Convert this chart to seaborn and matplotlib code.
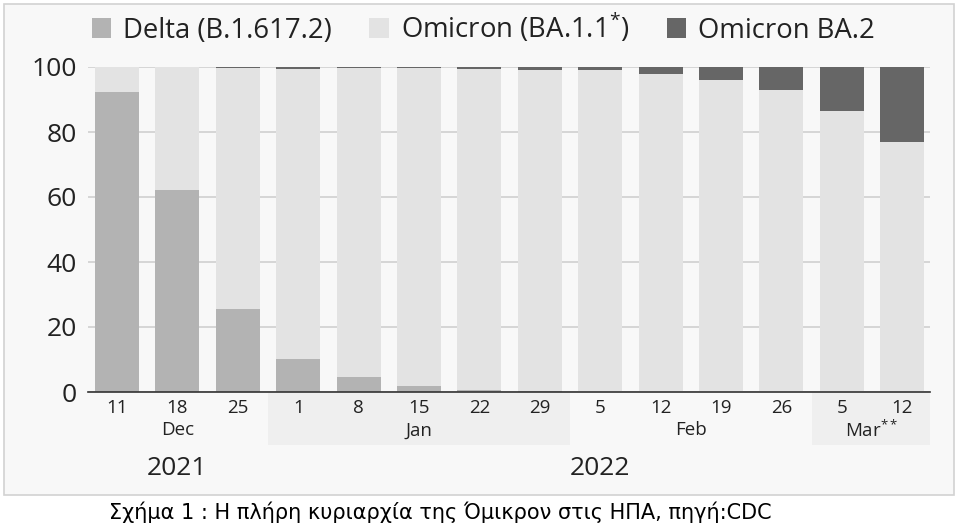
import numpy as np
import pandas as pd
import matplotlib as mpl
from matplotlib import pyplot as plt
from matplotlib.patches import Rectangle, Patch
import seaborn as sns

# weekly shares (%) of variants
weeks = ['11', '18', '25', '1', '8', '15', '22', '29', '5', '12', '19', '26', '5', '12']
week_id = ['Dec 11', 'Dec 18', 'Dec 25', 'Jan 1', 'Jan 8', 'Jan 15', 'Jan 22', 'Jan 29',
           'Feb 5', 'Feb 12', 'Feb 19', 'Feb 26', 'Mar 5', 'Mar 12']
delta = [92.3, 62.2, 25.5, 10.2, 4.6, 1.8, 0.5, 0.3, 0.1, 0, 0, 0, 0, 0]
ba2 = [0, 0, 0.2, 0.5, 0.3, 0.3, 0.5, 0.8, 1.0, 2.2, 4.0, 7.1, 13.5, 23.1]
months = ['Dec', 'Jan', 'Feb', 'Mar$^{**}$']
month_span = [(0, 2), (3, 7), (8, 11), (12, 13)]
years = ['2021', '2022']
year_span = [(0, 2), (3, 13)]
labels = ['Delta (B.1.617.2)', 'Omicron (BA.1.1$^{*}$)', 'Omicron BA.2']
colors = ['#b3b3b3', '#e3e3e3', '#666666']

omicron = [100 - d - b for d, b in zip(delta, ba2)]
df = pd.DataFrame({'week': week_id, 'delta': delta, 'omicron': omicron, 'ba2': ba2})
df['top'] = df['delta'] + df['omicron'] + df['ba2']
df['mid'] = df['delta'] + df['omicron']

sns.set_style("white")
plt.rcParams['font.family'] = ['Open Sans', 'DejaVu Sans']
plt.rcParams['mathtext.fontset'] = 'custom'
plt.rcParams['mathtext.rm'] = 'Open Sans'
plt.rcParams['mathtext.it'] = 'Open Sans'

bg = '#f8f8f8'
fig = plt.figure(figsize=(9.6, 5.27), dpi=100)
fig.patch.set_facecolor('white')
frame = Rectangle((4 / 960, 1 - 495 / 527), 950 / 960, 491 / 527,
                  transform=fig.transFigure, facecolor=bg,
                  edgecolor='#d2d2d2', linewidth=1.2, zorder=-10)
fig.add_artist(frame)

ax = fig.add_axes([88 / 960, 1 - 392 / 527, 842 / 960, 325 / 527])
ax.patch.set_visible(False)

# stacked bars: draw cumulative totals from the back to the front
for col, c in zip(['top', 'mid', 'delta'], [colors[2], colors[1], colors[0]]):
    sns.barplot(data=df, x='week', y=col, color=c, saturation=1, width=0.73,
                linewidth=0, ax=ax, zorder=3)

ax.set_ylim(0, 100)
ax.set_xlim(-0.48, 13.46)
ax.set_yticks([0, 20, 40, 60, 80, 100])
ax.yaxis.grid(True, color='#d0d0d0', linewidth=1.2, zorder=0)
ax.set_axisbelow(True)
ax.set_xticks(range(len(weeks)))
ax.set_xticklabels(weeks)
ax.tick_params(axis='x', length=0, labelsize=13.5, pad=5, colors='#222222')
ax.tick_params(axis='y', length=0, labelsize=19, pad=8, colors='#222222')
ax.set_xlabel('')
ax.set_ylabel('')
for s in ['top', 'right', 'left']:
    ax.spines[s].set_visible(False)
ax.spines['bottom'].set_color('#333333')
ax.spines['bottom'].set_linewidth(1.2)
ax.spines['bottom'].set_zorder(5)

trans = mpl.transforms.blended_transform_factory(ax.transData, ax.transAxes)
# shaded month bands under the axis (Jan, Mar)
for i, (a, b) in enumerate(month_span):
    if i % 2 == 1:
        right = min(b + 0.5, 13.46)
        ax.add_patch(Rectangle((a - 0.5, -0.163), right - (a - 0.5), 0.163, transform=trans,
                               facecolor='#efefef', edgecolor='none', clip_on=False, zorder=0))
    ax.text((a + b) / 2, -0.118, months[i], transform=trans, ha='center', va='center',
            fontsize=13.5, color='#222222')
for yr, (a, b) in zip(years, year_span):
    ax.text((a + b) / 2, -0.235, yr, transform=trans, ha='center', va='center',
            fontsize=19, color='#222222')

handles = [Patch(facecolor=c, edgecolor='none') for c in colors]
fig.legend(handles, labels, loc='center left', bbox_to_anchor=(67 / 960, 1 - 28 / 527),
           ncol=3, frameon=False, fontsize=19.8, handlelength=0.7, handleheight=0.7,
           handletextpad=0.45, columnspacing=1.35, labelcolor='#222222')

fig.text(440 / 960, 1 - 512 / 527, 'Σχήμα 1 : Η πλήρη κυριαρχία της Όμικρον στις ΗΠΑ, πηγή:CDC',
         ha='center', va='center', fontsize=15, family=['DejaVu Sans'], color='black')

fig.savefig('out.png', dpi=100)
